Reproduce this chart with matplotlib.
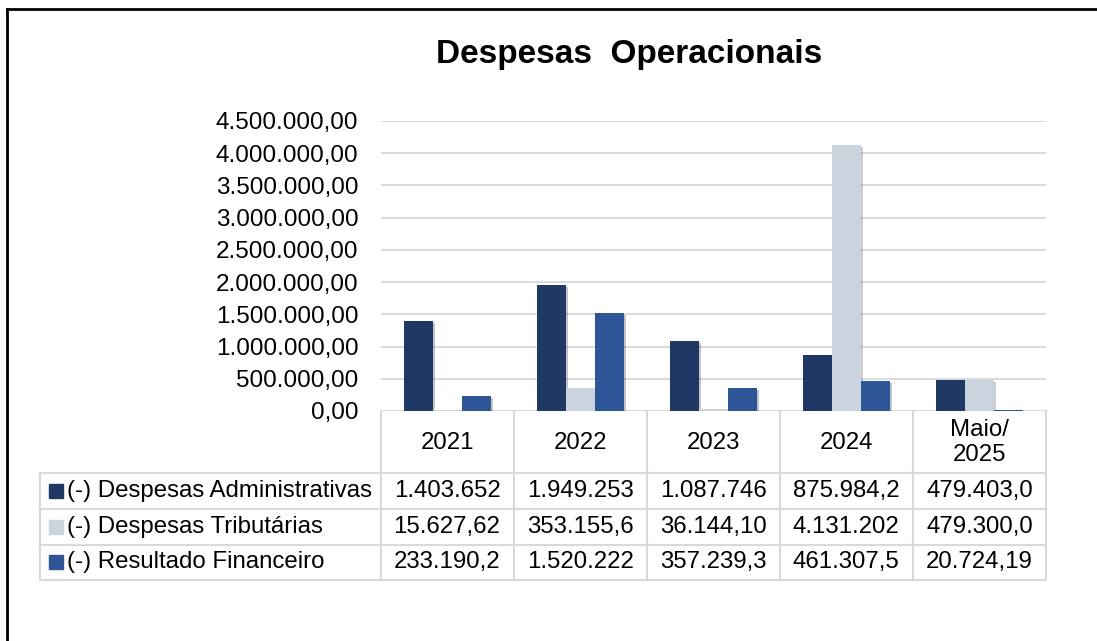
import matplotlib.pyplot as plt
import matplotlib.patheffects as pe
import numpy as np

plt.rcParams['font.family'] = ['Liberation Sans', 'DejaVu Sans']

# dados
categorias = ['2021', '2022', '2023', '2024', 'Maio/\n2025']
series = ['(-) Despesas Administrativas', '(-) Despesas Tributárias', '(-) Resultado Financeiro']
desp_adm = [1403652, 1949253, 1087746, 875984.2, 479403.0]
desp_trib = [15627.62, 353155.6, 36144.10, 4131202, 479300.0]
res_fin = [233190.2, 1520222, 357239.3, 461307.5, 20724.19]
cores = ['#203864', '#CAD3DE', '#2E5597']

valores = [desp_adm, desp_trib, res_fin]


def fmt_br(v, n=9):
    # formato brasileiro, cortado como na tabela do Excel
    s = f"{v:,.2f}".replace(',', 'X').replace('.', ',').replace('X', '.')
    return s[:n]


def fmt_eixo(v, pos):
    return f"{v:,.2f}".replace(',', 'X').replace('.', ',').replace('X', '.')


W, H = 1097, 641
fig = plt.figure(figsize=(W / 100, H / 100), dpi=100)


def fx(x):
    return x / W


def fy(y):
    return 1 - y / H


# posicoes em pixels
x0, x1 = 380.5, 1046
y_top, y_zero = 121, 411
ax = fig.add_axes([fx(x0), fy(y_zero), fx(x1 - x0), (y_zero - y_top) / H])

n = len(categorias)
x = np.arange(n)
larg = 0.218
for i, (serie, vals) in enumerate(zip(series, valores)):
    barras = ax.bar(x + (i - 1) * larg, vals, larg, color=cores[i], zorder=3, label=serie)
    for b in barras:
        b.set_path_effects([pe.SimplePatchShadow(offset=(1.5, -1.5), alpha=0.25), pe.Normal()])

ax.set_xlim(-0.5, n - 0.5)
ax.set_ylim(0, 4500000)
ax.set_yticks(np.arange(0, 4500001, 500000))
ax.yaxis.set_major_formatter(plt.FuncFormatter(fmt_eixo))
ax.tick_params(axis='y', length=0, pad=16, labelsize=17.5)
ax.set_xticks([])
ax.grid(axis='y', color='#D9D9D9', linewidth=1.4, zorder=0)
for s in ax.spines.values():
    s.set_visible(False)

# titulo
fig.text(fx(629), fy(63), 'Despesas  Operacionais', ha='center', va='baseline',
         fontsize=24, fontweight='bold')

# tabela de dados
cor_linha = '#D9D9D9'
lw = 1.5
col_x = np.linspace(x0, x1, n + 1)
leg_x = 40
row_y = [411, 472.5, 509, 544.5, 580]
fs = 17.3


def linha(xa, xb, ya, yb):
    fig.add_artist(plt.Line2D([fx(xa), fx(xb)], [fy(ya), fy(yb)], color=cor_linha, lw=lw))


for cx in col_x:
    linha(cx, cx, row_y[0], row_y[-1])
linha(leg_x, leg_x, row_y[1], row_y[-1])
for ry in row_y[1:]:
    linha(leg_x, x1, ry, ry)

# cabecalho
for j, cat in enumerate(categorias):
    cx = (col_x[j] + col_x[j + 1]) / 2
    fig.text(fx(cx), fy((row_y[0] + row_y[1]) / 2 + 1), cat, ha='center', va='center',
             fontsize=fs, linespacing=1.2)

# linhas de valores
for i, (serie, vals) in enumerate(zip(series, valores)):
    cy = (row_y[i + 1] + row_y[i + 2]) / 2
    fig.patches.append(plt.Rectangle((fx(49), fy(cy + 7)), fx(14), 14 / H,
                                     color=cores[i], transform=fig.transFigure))
    fig.text(fx(67), fy(cy), serie, ha='left', va='center', fontsize=fs)
    for j, v in enumerate(vals):
        cx = (col_x[j] + col_x[j + 1]) / 2
        fig.text(fx(cx), fy(cy), fmt_br(v), ha='center', va='center', fontsize=fs)

# moldura
fig.add_artist(plt.Line2D([fx(7), fx(7)], [fy(9), 0], color='black', lw=2))
fig.add_artist(plt.Line2D([fx(7), 1], [fy(9), fy(9)], color='black', lw=2))

fig.savefig('out.png', dpi=100)
